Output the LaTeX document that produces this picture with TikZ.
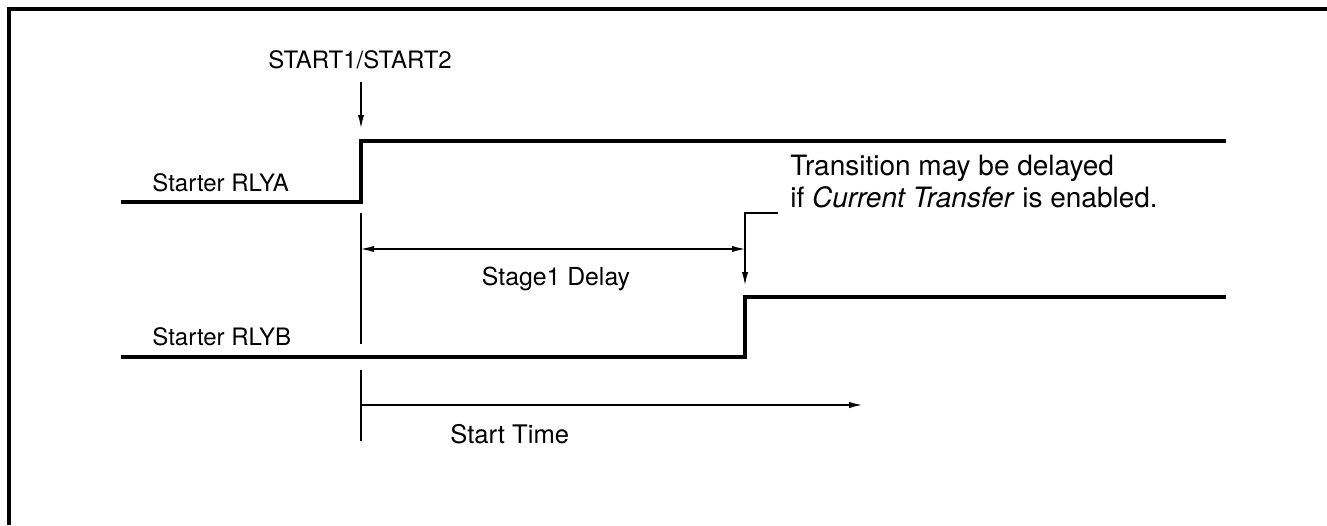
\documentclass[tikz,border=0pt]{standalone}
\usepackage{fontspec}
\setmainfont{TeX Gyre Heros}
\usetikzlibrary{positioning,arrows.meta}

\begin{document}
\begin{tikzpicture}[x=0.5pt, y=-0.5pt,
    signal/.style={line width=2pt, line join=miter},
    thinline/.style={line width=0.65pt},
    pointer/.style={thinline, -{Latex[length=6.5pt,width=3.2pt]}},
    twoway/.style={thinline, {Latex[length=6.5pt,width=3.2pt]}-{Latex[length=6.5pt,width=3.2pt]}},
    lbl/.style={inner sep=0pt, font=\fontsize{12}{14}\selectfont}]
    \useasboundingbox (0,0) rectangle (1327,525);

    % open frame
    \draw[line width=2pt, line join=miter] (9,525) -- (9,9) -- (1327,9);

    % labels
    \node[lbl, anchor=base] (start) at (360,68) {START1/START2};
    \node[lbl, anchor=base west] (rlya) at (152,191) {Starter RLYA};
    \node[lbl, anchor=base west] (rlyb) at (152,345) {Starter RLYB};
    \node[lbl, anchor=base, font=\fontsize{12.4}{14}\selectfont] (stage) at (556,285) {Stage1 Delay};
    \node[lbl, anchor=base west, font=\fontsize{12.8}{14}\selectfont] (stime) at (450,443) {Start Time};
    \node[inner sep=0pt, anchor=base west, align=left,
          font=\fontsize{14}{16}\selectfont] (trans) at (790,207)
          {Transition may be delayed\\if \textit{Current Transfer} is enabled.};

    % signal A
    \coordinate (a0) at (121,202);
    \coordinate (a1) at (361,202);
    \coordinate (a2) at (361,141);
    \coordinate (a3) at (1226,141);
    \draw[signal] (a0) -- (a1) -- (a2) -- (a3);

    % signal B
    \coordinate (b0) at (121,357);
    \coordinate (b1) at (745,357);
    \coordinate (b2) at (745,297);
    \coordinate (b3) at (1226,297);
    \draw[signal] (b0) -- (b1) -- (b2) -- (b3);

    % start marker
    \coordinate (s0) at (361,82);
    \coordinate (s1) at (361,128);
    \draw[pointer] (s0) -- (s1);

    % reference line
    \coordinate (m0) at (361,213);
    \coordinate (m1) at (361,344);
    \coordinate (m2) at (361,370);
    \coordinate (m3) at (361,441);
    \draw[thinline] (m0) -- (m1);
    \draw[thinline] (m2) -- (m3);

    % stage 1 delay
    \coordinate (d0) at (361,249);
    \coordinate (d1) at (745,249);
    \draw[twoway] (d0) -- (d1);

    % leader to transition
    \coordinate (lead) at (778,213);
    \coordinate (leadend) at (745,285);
    \draw[pointer] (lead) -| (leadend);

    % start time
    \coordinate (t1) at (862,405);
    \draw[pointer] (361,405) -- (t1);
\end{tikzpicture}
\end{document}
